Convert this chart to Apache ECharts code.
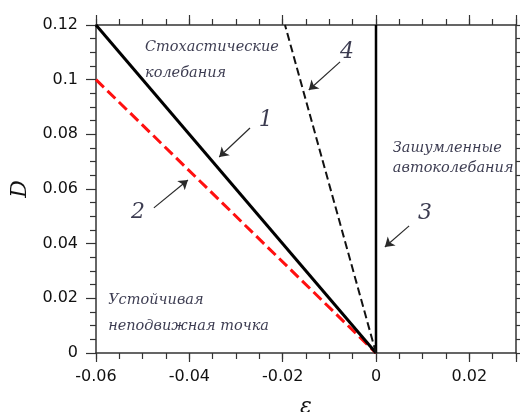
<!DOCTYPE html>
<html>
<head>
<meta charset="utf-8">
<script src="https://cdn.jsdelivr.net/npm/echarts@6/dist/echarts.min.js"></script>
<style>
  html, body { margin: 0; padding: 0; background: #fff; }
  #chart { width: 520px; height: 412px; }
</style>
</head>
<body>
<div id="chart"></div>
<script>
// Boundary lines of the regimes in the (ε, D) plane
const line1 = [[-0.06, 0.12], [0, 0]];
const line2 = [[-0.06, 0.10], [0, 0]];
const line3 = [[0, 0], [0, 0.12]];
const line4 = [[0, 0], [-0.0195, 0.12]];

// Axis ranges and labelled ticks
const xRange = [-0.06, 0.03];
const yRange = [0, 0.12];
const xLabelValues = [-0.06, -0.04, -0.02, 0, 0.02];

// Region captions: [ε, D, text]
const regionLabels = [
  [-0.0495, 0.1119, 'Стохастические'],
  [-0.0495, 0.1024, 'колебания'],
  [-0.0574, 0.0194, 'Устойчивая'],
  [-0.0574, 0.0099, 'неподвижная точка'],
  [0.0036, 0.0750, 'Зашумленные'],
  [0.0036, 0.0677, 'автоколебания']
];

// Curve numbers: [ε, D, text]
const curveNumbers = [
  [-0.0236, 0.0853, '1'],
  [-0.0510, 0.0516, '2'],
  [0.0105, 0.0512, '3'],
  [-0.0062, 0.1100, '4']
];

// Pointer arrows: [from, to]
const pointers = [
  [[-0.0270, 0.0823], [-0.0336, 0.0717]],
  [[-0.0476, 0.0531], [-0.0403, 0.0633]],
  [[0.0071, 0.0465], [0.0019, 0.0388]],
  [[-0.0077, 0.1065], [-0.0144, 0.0962]]
];

const axisColor = '#333';
const tickFont = { fontFamily: 'DejaVu Sans', fontSize: 16, color: '#111' };
const captionFont = { fontFamily: 'DejaVu Serif', fontStyle: 'italic', fontSize: 14.5, color: '#0a0a24' };

function fmt(v) { return String(+v.toFixed(3)); }

const chart = echarts.init(document.getElementById('chart'));

const xCommon = { type: 'value', min: xRange[0], max: xRange[1], splitLine: { show: false } };
const yCommon = { type: 'value', min: yRange[0], max: yRange[1], splitLine: { show: false } };

chart.setOption({
  animation: false,
  backgroundColor: '#fff',
  grid: { left: 96, right: 4, top: 25, bottom: 59, containLabel: false, outerBoundsMode: 'none' },
  xAxis: [
    Object.assign({}, xCommon, {
      position: 'bottom', interval: 0.005,
      name: 'ε', nameLocation: 'middle', nameGap: 43,
      nameTextStyle: { fontFamily: 'DejaVu Serif', fontStyle: 'italic', fontSize: 22, color: '#111' },
      axisLine: { show: true, onZero: false, lineStyle: { color: axisColor, width: 1.5 } },
      axisTick: { show: true, length: 6, lineStyle: { color: axisColor, width: 1.2 } },
      axisLabel: Object.assign({ margin: 16, interval: 0,
        formatter: v => (xLabelValues.some(t => Math.abs(t - v) < 1e-9) ? fmt(v) : '') }, tickFont)
    }),
    Object.assign({}, xCommon, {
      position: 'bottom', interval: 0.02,
      axisLine: { show: false, onZero: false },
      axisTick: { show: true, length: 9, lineStyle: { color: axisColor, width: 1.2 } },
      axisLabel: { show: false }
    }),
    Object.assign({}, xCommon, {
      position: 'top', interval: 0.005,
      axisLine: { show: true, onZero: false, lineStyle: { color: axisColor, width: 1.5 } },
      axisTick: { show: true, length: 6, lineStyle: { color: axisColor, width: 1.2 } },
      axisLabel: { show: false }
    }),
    Object.assign({}, xCommon, {
      position: 'top', interval: 0.02,
      axisLine: { show: false, onZero: false },
      axisTick: { show: true, length: 10, lineStyle: { color: axisColor, width: 1.2 } },
      axisLabel: { show: false }
    })
  ],
  yAxis: [
    Object.assign({}, yCommon, {
      position: 'left', interval: 0.02,
      name: 'D', nameLocation: 'middle', nameGap: 60, nameRotate: 90,
      nameTextStyle: { fontFamily: 'DejaVu Serif', fontStyle: 'italic', fontSize: 22, color: '#111' },
      axisLine: { show: true, onZero: false, lineStyle: { color: axisColor, width: 1.5 } },
      axisTick: { show: true, length: 10, lineStyle: { color: axisColor, width: 1.2 } },
      minorTick: { show: true, splitNumber: 4, length: 6, lineStyle: { color: axisColor, width: 1.2 } },
      axisLabel: Object.assign({ margin: 18, formatter: v => fmt(v) }, tickFont)
    }),
    Object.assign({}, yCommon, {
      position: 'right', interval: 0.005,
      axisLine: { show: true, onZero: false, lineStyle: { color: axisColor, width: 1.5 } },
      axisTick: { show: true, length: 5, lineStyle: { color: axisColor, width: 1.2 } },
      axisLabel: { show: false }
    })
  ],
  series: [
    {
      type: 'line', data: line2, symbol: 'none', z: 3,
      lineStyle: { color: '#ff1010', width: 3, type: [11, 5] }
    },
    {
      type: 'line', data: line1, symbol: 'none', z: 4,
      lineStyle: { color: '#000', width: 3 }
    },
    {
      type: 'line', data: line3, symbol: 'none', z: 4,
      lineStyle: { color: '#000', width: 2.5 }
    },
    {
      type: 'line', data: line4, symbol: 'none', z: 4,
      lineStyle: { color: '#111', width: 2, type: [8, 4] }
    },
    {
      type: 'lines', coordinateSystem: 'cartesian2d', z: 5,
      symbol: ['none', 'arrow'], symbolSize: 9,
      lineStyle: { color: '#2a2a2a', width: 1.2, opacity: 1 },
      data: pointers.map(p => ({ coords: p }))
    },
    {
      type: 'scatter', symbolSize: 0, z: 6, silent: true,
      data: regionLabels,
      label: Object.assign({ show: true, position: 'right', distance: 0,
        formatter: p => p.data[2] }, captionFont)
    },
    {
      type: 'scatter', symbolSize: 0, z: 6, silent: true,
      data: curveNumbers,
      label: { show: true, position: 'inside', formatter: p => p.data[2],
        fontFamily: 'DejaVu Serif', fontStyle: 'italic', fontSize: 22, color: '#0a0a24' }
    }
  ]
});
</script>
</body>
</html>
